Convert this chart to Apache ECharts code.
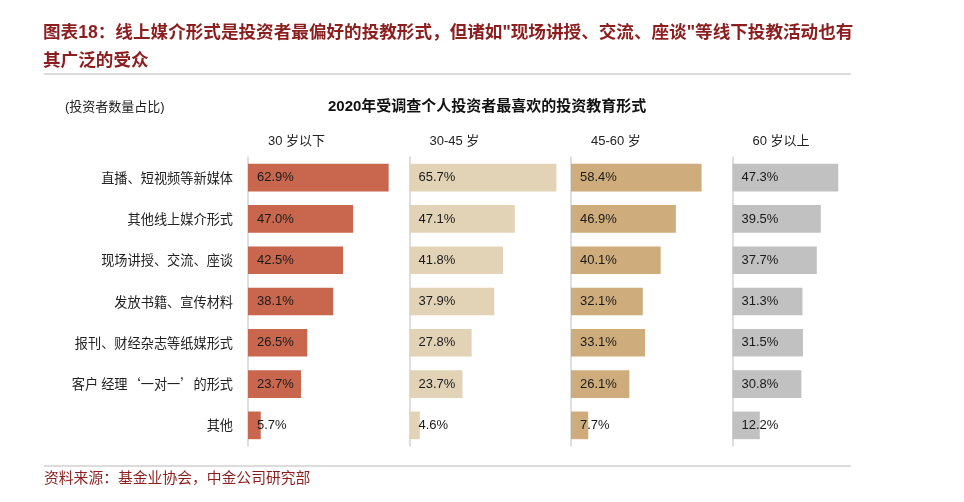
<!DOCTYPE html>
<html>
<head>
<meta charset="utf-8">
<script src="https://cdn.jsdelivr.net/npm/echarts@6/dist/echarts.min.js"></script>
<style>
html,body{margin:0;padding:0;background:#fff;}
#c{width:964px;height:502px;}
</style>
</head>
<body>
<div id="c"></div>
<script>
var categories = ['直播、短视频等新媒体','其他线上媒介形式','现场讲授、交流、座谈','发放书籍、宣传材料','报刊、财经杂志等纸媒形式','客户 经理‘一对一’的形式','其他'];
var groups = ['30 岁以下','30-45 岁','45-60 岁','60 岁以上'];
var under30 = [62.9,47.0,42.5,38.1,26.5,23.7,5.7];
var age30_45 = [65.7,47.1,41.8,37.9,27.8,23.7,4.6];
var age45_60 = [58.4,46.9,40.1,32.1,33.1,26.1,7.7];
var over60 = [47.3,39.5,37.7,31.3,31.5,30.8,12.2];
var seriesData = [under30, age30_45, age45_60, over60];
var colors = ['#C8674E','#E3D3B6','#CFAC7B','#C2C1C2'];
var lefts = [248, 409.5, 571, 732.5];

var cjk = "'Liberation Sans','Noto Sans CJK SC',sans-serif";
var cjkFirst = "'Noto Sans CJK SC',sans-serif";
var chart = echarts.init(document.getElementById('c'));
var grids=[], xAxes=[], yAxes=[], series=[], graphics=[];
for (var i=0;i<4;i++){
  grids.push({left:lefts[i], top:157, width:161, height:289});
  xAxes.push({type:'value', gridIndex:i, min:0, max:72, show:false});
  yAxes.push({type:'category', gridIndex:i, inverse:true, data:categories,
    axisLine:{show:true, lineStyle:{color:'#D3D3D3', width:1.5}},
    axisTick:{show:false},
    axisLabel:{show:i===0, margin:15, fontSize:13.2, color:'#222', fontFamily:cjkFirst}
  });
  series.push({type:'bar', xAxisIndex:i, yAxisIndex:i, data:seriesData[i],
    barCategoryGap:'33%', itemStyle:{color:colors[i]}, silent:true,
    label:{show:true, position:'insideLeft', distance:9, fontSize:13, color:'#1a1a1a',
      fontFamily:"'Liberation Sans',Arial,sans-serif",
      formatter:function(p){return p.value.toFixed(1)+'%';}}
  });
  graphics.push({type:'text', left:lefts[i]+20, top:135, style:{text:groups[i], font:'13px '+cjk, fill:'#222'}});
}
graphics.push({type:'text', left:43, top:24, style:{text:'图表18：线上媒介形式是投资者最偏好的投教形式，但诸如"现场讲授、交流、座谈"等线下投教活动也有', font:'bold 17.6px '+cjk, fill:'#8C1E1F'}});
graphics.push({type:'text', left:43, top:52, style:{text:'其广泛的受众', font:'bold 17.6px '+cjk, fill:'#8C1E1F'}});
graphics.push({type:'line', shape:{x1:44,y1:74,x2:851,y2:74}, style:{stroke:'#DCDCDC', lineWidth:2}});
graphics.push({type:'text', left:65, top:101, style:{text:'(投资者数量占比)', font:'13px '+cjk, fill:'#222'}});
graphics.push({type:'text', left:328, top:99, style:{text:'2020年受调查个人投资者最喜欢的投资教育形式', font:'bold 15px '+cjk, fill:'#111'}});
graphics.push({type:'line', shape:{x1:44,y1:466,x2:851,y2:466}, style:{stroke:'#DCDCDC', lineWidth:2}});
graphics.push({type:'text', left:44, top:472, style:{text:'资料来源：基金业协会，中金公司研究部', font:'14.8px '+cjk, fill:'#8C1E1F'}});

chart.setOption({
  backgroundColor:'#fff',
  animation:false,
  grid:grids, xAxis:xAxes, yAxis:yAxes, series:series, graphic:graphics
});
</script>
</body>
</html>
